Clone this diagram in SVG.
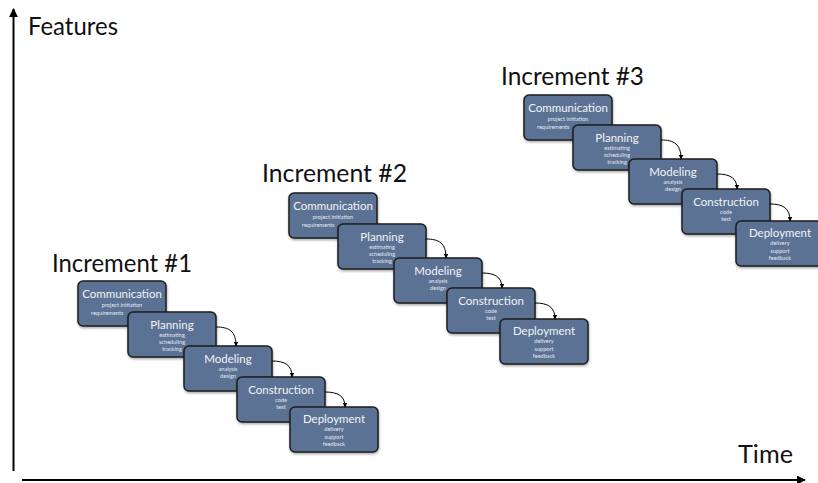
<svg xmlns="http://www.w3.org/2000/svg" width="818" height="483" viewBox="0 0 818 483">
<style>
.box{fill:#5b7294;stroke:#1c1c1c;stroke-width:1.5}
.t{font-family:Lato,"Liberation Sans",sans-serif;fill:#f2f4f7;font-size:11.5px;text-anchor:middle}
.s{font-family:Lato,"Liberation Sans",sans-serif;fill:#e3e8ef;font-size:5.6px;text-anchor:middle}
.big{font-family:Lato,"Liberation Sans",sans-serif;fill:#111;font-size:25px}
.ax{stroke:#000;stroke-width:2;fill:none}
.cn{stroke:#000;stroke-width:1;fill:none;marker-end:url(#ah)}
</style>
<defs>
<marker id="ah" viewBox="0 0 10 10" refX="9" refY="5" markerWidth="5" markerHeight="5" orient="auto" markerUnits="userSpaceOnUse"><path d="M0,0 L10,5 L0,10 z" fill="#000"/></marker>
<marker id="axh" viewBox="0 0 10 10" refX="9" refY="5" markerWidth="9" markerHeight="9" orient="auto" markerUnits="userSpaceOnUse"><path d="M0,0 L10,5 L0,10 z" fill="#000"/></marker>
<filter id="sh" x="-10%" y="-10%" width="130%" height="140%"><feDropShadow dx="0.5" dy="1.5" stdDeviation="1" flood-color="#000" flood-opacity="0.35"/></filter>
<g id="commT"><rect class="box" width="88" height="45" rx="5" filter="url(#sh)"/><text class="t" x="44" y="17">Communication</text><text class="s" x="44" y="25.5">project initiation</text><text class="s" x="13" y="33.5" style="text-anchor:start">requirements</text></g>
<g id="planT"><rect class="box" width="88" height="45" rx="5" filter="url(#sh)"/><text class="t" x="44" y="16.5">Planning</text><text class="s" x="44" y="24.5">estimating</text><text class="s" x="44" y="31.5">scheduling</text><text class="s" x="44" y="38.5">tracking</text></g>
<g id="modT"><rect class="box" width="88" height="45" rx="5" filter="url(#sh)"/><text class="t" x="44" y="16.5">Modeling</text><text class="s" x="44" y="24.5">analysis</text><text class="s" x="44" y="31.5">design</text></g>
<g id="conT"><rect class="box" width="88" height="45" rx="5" filter="url(#sh)"/><text class="t" x="44" y="16.5">Construction</text><text class="s" x="44" y="24.5">code</text><text class="s" x="44" y="31.5">test</text></g>
<g id="depT"><rect class="box" width="88" height="45" rx="5" filter="url(#sh)"/><text class="t" x="44" y="16">Deployment</text><text class="s" x="44" y="24">delivery</text><text class="s" x="44" y="31.5">support</text><text class="s" x="44" y="39">feedback</text></g>
</defs>
<rect width="818" height="483" fill="#fff"/>
<g id="axes">
<line class="ax" x1="13.5" y1="471" x2="13.5" y2="9" marker-end="url(#axh)"/>
<line class="ax" x1="22" y1="480" x2="805" y2="480" marker-end="url(#axh)"/>
<text class="big" x="28" y="35" textLength="90" lengthAdjust="spacingAndGlyphs">Features</text>
<text class="big" x="738" y="463" textLength="55" lengthAdjust="spacingAndGlyphs">Time</text>
</g>
<g id="labels">
<text class="big" x="52" y="272" textLength="140" lengthAdjust="spacingAndGlyphs">Increment #1</text>
<text class="big" x="262" y="182" textLength="145" lengthAdjust="spacingAndGlyphs">Increment #2</text>
<text class="big" x="501" y="85" textLength="143" lengthAdjust="spacingAndGlyphs">Increment #3</text>
</g>
<g id="inc1-communication"><use href="#commT" x="78" y="281"/></g>
<g id="inc1-planning"><use href="#planT" x="128" y="312"/></g>
<g id="inc1-modeling"><use href="#modT" x="184" y="346"/></g>
<g id="inc1-construction"><use href="#conT" x="237" y="377"/></g>
<g id="inc1-deployment"><use href="#depT" x="290" y="407"/></g>
<g id="inc2-communication"><use href="#commT" x="289" y="193"/></g>
<g id="inc2-planning"><use href="#planT" x="338" y="224"/></g>
<g id="inc2-modeling"><use href="#modT" x="394" y="258"/></g>
<g id="inc2-construction"><use href="#conT" x="447" y="288"/></g>
<g id="inc2-deployment"><use href="#depT" x="500" y="319"/></g>
<g id="inc3-communication"><use href="#commT" x="524" y="95"/></g>
<g id="inc3-planning"><use href="#planT" x="573" y="125"/></g>
<g id="inc3-modeling"><use href="#modT" x="629" y="159"/></g>
<g id="inc3-construction"><use href="#conT" x="682" y="189"/></g>
<g id="inc3-deployment"><use href="#depT" x="736" y="221"/></g>
<g id="connectors">
<path class="cn" d="M216,327 C229,327 236,331 236,346"/>
<path class="cn" d="M272,361 C285,361 292,365 292,377"/>
<path class="cn" d="M325,392 C338,392 345,396 345,407"/>
<path class="cn" d="M426,239 C439,239 446,243 446,258"/>
<path class="cn" d="M482,273 C495,273 502,277 502,288"/>
<path class="cn" d="M535,303 C548,303 555,307 555,319"/>
<path class="cn" d="M661,140 C674,140 681,144 681,159"/>
<path class="cn" d="M717,174 C730,174 737,178 737,189"/>
<path class="cn" d="M770,204 C783,204 790,208 790,221"/>
</g>
</svg>
